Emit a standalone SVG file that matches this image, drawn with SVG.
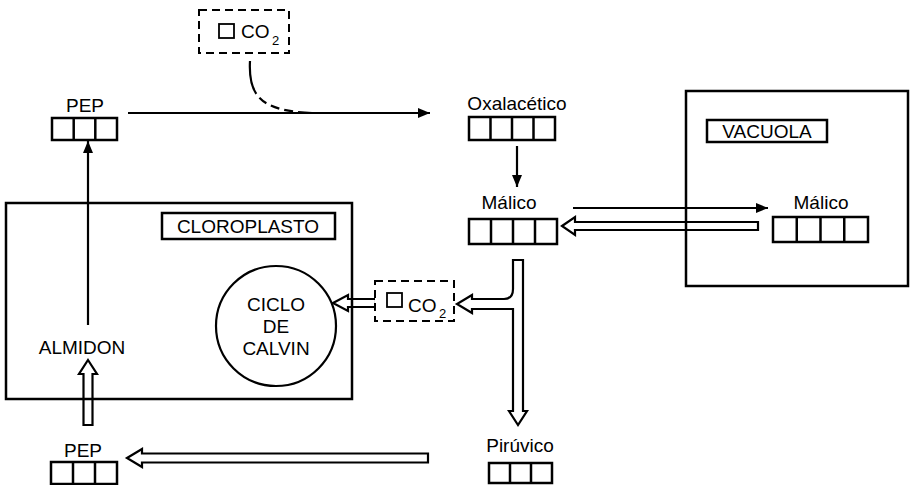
<svg xmlns="http://www.w3.org/2000/svg" width="911" height="485" viewBox="0 0 911 485">
<defs>
<marker id="ah" viewBox="0 0 12 10" refX="12" refY="5" markerWidth="12" markerHeight="10" markerUnits="userSpaceOnUse" orient="auto">
<path d="M0,0 L12,5 L0,10 Z" fill="#000"/>
</marker>
</defs>
<style>
text{font-family:"Liberation Sans",Arial,sans-serif;font-size:19px;fill:#000}
.c{text-anchor:middle}
.sub{font-size:13px}
.box{fill:none;stroke:#000;stroke-width:2.5}
.cell{fill:#fff;stroke:#000;stroke-width:2.5}
.dash{fill:#fff;stroke:#000;stroke-width:2;stroke-dasharray:8 5}
.thin{fill:none;stroke:#000;stroke-width:2.2}
.hollow{fill:#fff;stroke:#000;stroke-width:2.2;stroke-linejoin:miter}
.sq{fill:none;stroke:#000;stroke-width:1.8}
</style>
<rect width="911" height="485" fill="#fff"/>
<g id="connectors">
<line class="thin" x1="128" y1="113" x2="430" y2="113" marker-end="url(#ah)"/>
<path class="thin" d="M250,61 C248,97 262,111 312,113" stroke-dasharray="34 5 9 5 9 5 9 5"/>
<line class="thin" x1="517" y1="146" x2="517" y2="187" marker-end="url(#ah)"/>
<line class="thin" x1="573" y1="208" x2="768" y2="208" marker-end="url(#ah)"/>
<path class="hollow" d="M562,226 L575,217 L575,222 L758,222 L758,230 L575,230 L575,235 Z"/>
<line class="thin" x1="88" y1="325" x2="88" y2="141" marker-end="url(#ah)"/>
<path class="hollow" d="M88,360 L97,374 L92.5,374 L92.5,425 L83.5,425 L83.5,374 L79,374 Z"/>
<path class="hollow" d="M127,458 L142,449 L142,453.5 L428,453.5 L428,462.5 L142,462.5 L142,467 Z"/>
<path class="hollow" d="M333,303 L348,295 L348,299 L376,299 L376,307 L348,307 L348,311 Z"/>
<path class="hollow" d="M513,260 L523,260 L523,411 L527,411 L518,425 L509,411 L513,411 L513,309 L472,309 L472,313 L457,304 L472,295 L472,299 L504,299 Q513,299 513,289 Z"/>
</g>
<g id="co2-top">
<rect class="dash" x="199" y="10" width="90" height="43"/>
<rect class="sq" x="219" y="24" width="15" height="14"/>
<text x="241" y="38">CO</text>
<text class="sub" x="272" y="45">2</text>
</g>
<g id="pep-top">
<text class="c" x="85" y="112">PEP</text>
<rect class="cell" x="52" y="118" width="65" height="22"/>
<line class="box" x1="73.7" y1="118" x2="73.7" y2="140"/>
<line class="box" x1="95.3" y1="118" x2="95.3" y2="140"/>
</g>
<g id="oxalacetico">
<text class="c" x="517" y="110">Oxalacético</text>
<rect class="cell" x="469" y="117" width="86" height="23"/>
<line class="box" x1="490.5" y1="117" x2="490.5" y2="140"/>
<line class="box" x1="512" y1="117" x2="512" y2="140"/>
<line class="box" x1="533.5" y1="117" x2="533.5" y2="140"/>
</g>
<g id="malico">
<text class="c" x="509" y="209">Málico</text>
<rect class="cell" x="469" y="219" width="88" height="25"/>
<line class="box" x1="491" y1="219" x2="491" y2="244"/>
<line class="box" x1="513" y1="219" x2="513" y2="244"/>
<line class="box" x1="535" y1="219" x2="535" y2="244"/>
</g>
<g id="vacuola">
<rect class="box" x="686" y="91" width="222" height="195"/>
<rect class="box" x="707" y="120" width="120" height="22"/>
<text class="c" x="767" y="138">VACUOLA</text>
</g>
<g id="malico-vacuola">
<text class="c" x="821" y="209">Málico</text>
<rect class="cell" x="773" y="217" width="95" height="25"/>
<line class="box" x1="796.75" y1="217" x2="796.75" y2="242"/>
<line class="box" x1="820.5" y1="217" x2="820.5" y2="242"/>
<line class="box" x1="844.25" y1="217" x2="844.25" y2="242"/>
</g>
<g id="cloroplasto">
<rect class="box" x="6" y="203" width="346" height="196"/>
<rect class="box" x="162" y="213" width="173" height="26"/>
<text class="c" x="248" y="233">CLOROPLASTO</text>
</g>
<g id="ciclo-calvin">
<circle class="box" cx="276" cy="326" r="60" style="stroke-width:2.2"/>
<text class="c" x="276" y="311">CICLO</text>
<text class="c" x="276" y="333">DE</text>
<text class="c" x="276" y="355">CALVIN</text>
</g>
<g id="co2-mid">
<rect class="dash" x="375" y="281" width="79" height="40"/>
<rect class="sq" x="387" y="293" width="15" height="14"/>
<text x="408" y="312">CO</text>
<text class="sub" x="439" y="318">2</text>
</g>
<g id="almidon">
<text class="c" x="82" y="354">ALMIDON</text>
</g>
<g id="pep-bottom">
<text class="c" x="83" y="457">PEP</text>
<rect class="cell" x="51" y="462" width="66" height="22"/>
<line class="box" x1="73" y1="462" x2="73" y2="484"/>
<line class="box" x1="95" y1="462" x2="95" y2="484"/>
</g>
<g id="piruvico">
<text class="c" x="520" y="452">Pirúvico</text>
<rect class="cell" x="489" y="463" width="63" height="20"/>
<line class="box" x1="510" y1="463" x2="510" y2="483"/>
<line class="box" x1="531" y1="463" x2="531" y2="483"/>
</g>
</svg>
